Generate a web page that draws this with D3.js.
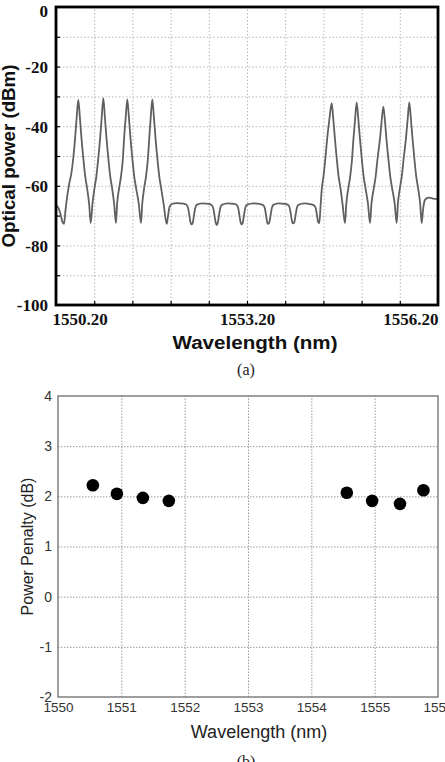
<!DOCTYPE html>
<html>
<head>
<meta charset="utf-8">
<script src="https://cdn.jsdelivr.net/npm/d3@7"></script>
<style>
  body { margin: 0; background: #fff; }
  svg { display: block; }
</style>
</head>
<body>
<div id="d3-container"></div>
<script>
/**
 * DATA
 * */
// (a) measured optical spectrum, [wavelength nm, power dBm]
const spectrum = [
  [1550.20, -66.5], [1550.24, -67.5], [1550.27, -69.5], [1550.30, -72], [1550.326, -72.8],
  // channel 1
  [1550.35, -68], [1550.38, -63], [1550.41, -59], [1550.44, -56], [1550.47, -51], [1550.50, -44], [1550.525, -37],
  [1550.55, -31.2], [1550.575, -37], [1550.60, -44], [1550.63, -51], [1550.66, -57], [1550.69, -61], [1550.72, -66], [1550.745, -72.5],
  // channel 2
  [1550.773, -66], [1550.803, -61], [1550.833, -57], [1550.863, -51], [1550.893, -44], [1550.918, -37],
  [1550.943, -30.6], [1550.968, -37], [1550.993, -44], [1551.023, -51], [1551.053, -57], [1551.083, -61], [1551.113, -66], [1551.142, -72.5],
  // channel 3
  [1551.16, -66], [1551.19, -61], [1551.22, -57], [1551.25, -51], [1551.27, -44], [1551.295, -37],
  [1551.32, -31], [1551.345, -37], [1551.37, -44], [1551.40, -51], [1551.43, -57], [1551.46, -61], [1551.50, -66], [1551.535, -72.5],
  // channel 4
  [1551.555, -66], [1551.583, -61], [1551.613, -57], [1551.643, -51], [1551.665, -44], [1551.688, -37],
  [1551.713, -31], [1551.738, -37], [1551.763, -44], [1551.793, -51], [1551.823, -57], [1551.853, -61], [1551.89, -66], [1551.939, -72.8],
  // empty slots (filter ripple)
  [1551.96, -70], [1551.985, -67], [1552.02, -66.1], [1552.10, -65.8], [1552.20, -66], [1552.25, -66.4],
  [1552.275, -67.5], [1552.295, -70], [1552.315, -72.5], [1552.331, -73], [1552.347, -72.5], [1552.367, -70], [1552.387, -67.5], [1552.41, -66.4],
  [1552.50, -65.9], [1552.60, -66.1],
  [1552.645, -66.5], [1552.67, -67.5], [1552.69, -70], [1552.71, -72.5], [1552.724, -73.2], [1552.74, -72.5], [1552.76, -70], [1552.78, -67.5], [1552.805, -66.4],
  [1552.90, -65.9], [1553.00, -66.1],
  [1553.04, -66.5], [1553.062, -67.5], [1553.082, -70], [1553.102, -72.5], [1553.117, -73], [1553.132, -72.5], [1553.152, -70], [1553.172, -67.5], [1553.197, -66.4],
  [1553.30, -65.9], [1553.40, -66.1],
  [1553.455, -66.5], [1553.48, -67.5], [1553.50, -70], [1553.52, -72.5], [1553.535, -72.8], [1553.55, -72.3], [1553.57, -70], [1553.59, -67.5], [1553.615, -66.4],
  [1553.70, -65.9], [1553.80, -66.1],
  [1553.85, -66.5], [1553.872, -67.5], [1553.892, -70], [1553.912, -72.3], [1553.927, -72.6], [1553.942, -72.3], [1553.962, -70], [1553.982, -67.5], [1554.007, -66.4],
  [1554.10, -65.9], [1554.20, -66.2],
  [1554.255, -66.6], [1554.28, -67.5], [1554.30, -70], [1554.32, -72.3], [1554.336, -72.5],
  // channel 5
  [1554.355, -67], [1554.375, -61], [1554.40, -57], [1554.43, -51], [1554.46, -44], [1554.495, -37.5],
  [1554.53, -32.3], [1554.555, -37.5], [1554.58, -44], [1554.61, -51], [1554.64, -57], [1554.67, -61], [1554.70, -66], [1554.739, -72.5],
  // channel 6
  [1554.76, -66], [1554.79, -61], [1554.82, -57], [1554.85, -51], [1554.873, -44], [1554.898, -37.5],
  [1554.923, -32], [1554.948, -37.5], [1554.973, -44], [1555.003, -51], [1555.033, -57], [1555.063, -61], [1555.10, -66], [1555.132, -72.5],
  // channel 7
  [1555.155, -66], [1555.19, -61], [1555.22, -57], [1555.25, -51], [1555.29, -44], [1555.316, -38],
  [1555.341, -33.4], [1555.366, -38], [1555.391, -44.5], [1555.421, -51], [1555.451, -57], [1555.481, -61], [1555.52, -66], [1555.551, -72.5],
  // channel 8
  [1555.57, -66], [1555.60, -61], [1555.63, -57], [1555.66, -51], [1555.697, -44], [1555.724, -37.5],
  [1555.749, -32], [1555.774, -37.5], [1555.799, -44], [1555.829, -51], [1555.859, -57], [1555.889, -61], [1555.92, -66], [1555.944, -72.5],
  [1555.965, -68], [1555.99, -65], [1556.02, -64.2], [1556.06, -64], [1556.12, -64.3], [1556.20, -64.5]
];
const spectrumPowerTicks = [0, -20, -40, -60, -80, -100];
const spectrumWavelengthTicks = [1550.2, 1553.2, 1556.2];

// (b) power penalty per channel
const penaltyWavelength = [1550.55, 1550.93, 1551.34, 1551.75, 1554.56, 1554.96, 1555.40, 1555.77];
const penaltyValue = [2.22, 2.05, 1.97, 1.91, 2.07, 1.91, 1.85, 2.12];
const penaltyTicks = [-2, -1, 0, 1, 2, 3, 4];
const penaltyWavelengthTicks = [1550, 1551, 1552, 1553, 1554, 1555, 1556];

/**
 * CONSTANTS
 * */
const width = 445, height = 762;
const serif = "'Liberation Serif', 'Times New Roman', serif";
const sans = "'Liberation Sans', Arial, sans-serif";
const plain = d => String(d); // keep ASCII hyphen minus like the figure

const svg = d3.select("#d3-container")
  .append("svg")
  .attr("width", width)
  .attr("height", height)
  .style("background", "#fff");

/**
 * PANEL (a)
 * */
const xA = d3.scaleLinear().domain([1550.2, 1556.2]).range([56, 438]);
const yA = d3.scaleLinear().domain([-100, 0]).range([305, 7]);
const xGridA = d3.range(1, 10).map(i => 1550.2 + i * 0.6);

const gA = svg.append("g");

// dotted grid every 10 dB / 0.6 nm
gA.append("g")
  .attr("transform", `translate(0,${yA(-100)})`)
  .call(d3.axisBottom(xA).tickValues(xGridA).tickSize(-(yA(-100) - yA(0))).tickFormat(""))
  .call(g => g.select(".domain").remove())
  .call(g => g.selectAll("line").attr("stroke", "#b8b8b8").attr("stroke-dasharray", "1.5,2"));

gA.append("g")
  .attr("transform", `translate(${xA(1550.2)},0)`)
  .call(d3.axisLeft(yA).tickValues(d3.range(-90, 0, 10)).tickSize(-(xA(1556.2) - xA(1550.2))).tickFormat(""))
  .call(g => g.select(".domain").remove())
  .call(g => g.selectAll("line").attr("stroke", "#b8b8b8").attr("stroke-dasharray", "1.5,2"));

// small inner tick marks
gA.append("g")
  .attr("transform", `translate(${xA(1550.2)},0)`)
  .call(d3.axisLeft(yA).tickValues(d3.range(-90, 0, 10)).tickSize(-4).tickFormat(""))
  .call(g => g.select(".domain").remove())
  .call(g => g.selectAll("line").attr("stroke", "#000").attr("stroke-width", 1.2));
gA.append("g")
  .attr("transform", `translate(0,${yA(-100)})`)
  .call(d3.axisBottom(xA).tickValues(xGridA).tickSize(-4).tickFormat(""))
  .call(g => g.select(".domain").remove())
  .call(g => g.selectAll("line").attr("stroke", "#000").attr("stroke-width", 1.2));

// spectrum trace
gA.append("path")
  .datum(spectrum)
  .attr("fill", "none")
  .attr("stroke", "#606060")
  .attr("stroke-width", 1.8)
  .attr("stroke-linejoin", "round")
  .attr("d", d3.line().x(d => xA(d[0])).y(d => yA(d[1])).curve(d3.curveMonotoneX));

// frame
gA.append("rect")
  .attr("x", xA(1550.2)).attr("y", yA(0))
  .attr("width", xA(1556.2) - xA(1550.2))
  .attr("height", yA(-100) - yA(0))
  .attr("fill", "none").attr("stroke", "#000").attr("stroke-width", 2.8);

// tick labels
gA.append("g")
  .attr("transform", `translate(${xA(1550.2) - 2},0)`)
  .call(d3.axisLeft(yA).tickValues(spectrumPowerTicks).tickSize(0).tickPadding(6).tickFormat(plain))
  .call(g => g.select(".domain").remove())
  .call(g => g.selectAll("text").attr("font-family", serif).attr("font-weight", "bold")
    .attr("font-size", 17).attr("fill", "#111").attr("dy", (d, i) => i === 0 ? "0.55em" : "0.35em"));

gA.append("g")
  .attr("transform", `translate(0,${yA(-100) + 2})`)
  .call(d3.axisBottom(xA).tickValues(spectrumWavelengthTicks).tickSize(0).tickPadding(6).tickFormat(d3.format(".2f")))
  .call(g => g.select(".domain").remove())
  .call(g => g.selectAll("text").attr("font-family", serif).attr("font-weight", "bold")
    .attr("font-size", 17).attr("fill", "#111")
    .attr("text-anchor", (d, i) => i === 0 ? "start" : i === spectrumWavelengthTicks.length - 1 ? "end" : "middle")
    .attr("dx", (d, i) => i === 0 ? -4 : 0));

// titles
gA.append("text")
  .attr("transform", `translate(15,${(yA(0) + yA(-100)) / 2}) rotate(-90)`)
  .attr("text-anchor", "middle")
  .attr("font-family", sans).attr("font-weight", "bold").attr("font-size", 17.5).attr("fill", "#111")
  .attr("textLength", 183).attr("lengthAdjust", "spacingAndGlyphs")
  .text("Optical power (dBm)");

gA.append("text")
  .attr("x", 255).attr("y", 349)
  .attr("text-anchor", "middle")
  .attr("font-family", sans).attr("font-weight", "bold").attr("font-size", 17.5).attr("fill", "#111")
  .attr("textLength", 165).attr("lengthAdjust", "spacingAndGlyphs")
  .text("Wavelength (nm)");

gA.append("text")
  .attr("x", 246).attr("y", 375)
  .attr("text-anchor", "middle")
  .attr("font-family", serif).attr("font-size", 16).attr("fill", "#222")
  .text("(a)");

/**
 * PANEL (b)
 * */
const xB = d3.scaleLinear().domain([1550, 1556]).range([58, 438]);
const yB = d3.scaleLinear().domain([-2, 4]).range([697, 396]);

const gB = svg.append("g");

gB.append("g")
  .attr("transform", `translate(0,${yB(-2)})`)
  .call(d3.axisBottom(xB).tickValues(penaltyWavelengthTicks.slice(1, -1))
    .tickSize(-(yB(-2) - yB(4))).tickFormat(""))
  .call(g => g.select(".domain").remove())
  .call(g => g.selectAll("line").attr("stroke", "#9a9a9a").attr("stroke-dasharray", "1.5,1.5"));

gB.append("g")
  .attr("transform", `translate(${xB(1550)},0)`)
  .call(d3.axisLeft(yB).tickValues(penaltyTicks.slice(1, -1))
    .tickSize(-(xB(1556) - xB(1550))).tickFormat(""))
  .call(g => g.select(".domain").remove())
  .call(g => g.selectAll("line").attr("stroke", "#9a9a9a").attr("stroke-dasharray", "1.5,1.5"));

gB.append("rect")
  .attr("x", xB(1550)).attr("y", yB(4))
  .attr("width", xB(1556) - xB(1550))
  .attr("height", yB(-2) - yB(4))
  .attr("fill", "none").attr("stroke", "#777").attr("stroke-width", 1.4);

gB.selectAll("circle.pp")
  .data(penaltyWavelength.map((w, i) => [w, penaltyValue[i]]))
  .join("circle")
  .attr("class", "pp")
  .attr("cx", d => xB(d[0]))
  .attr("cy", d => yB(d[1]))
  .attr("r", 6.3)
  .attr("fill", "#000");

gB.append("g")
  .attr("transform", `translate(${xB(1550)},0)`)
  .call(d3.axisLeft(yB).tickValues(penaltyTicks).tickSize(0).tickPadding(6).tickFormat(plain))
  .call(g => g.select(".domain").remove())
  .call(g => g.selectAll("text").attr("font-family", sans).attr("font-size", 14).attr("fill", "#333"));

gB.append("g")
  .attr("transform", `translate(0,${yB(-2)})`)
  .call(d3.axisBottom(xB).tickValues(penaltyWavelengthTicks).tickSize(0).tickPadding(5).tickFormat(plain))
  .call(g => g.select(".domain").remove())
  .call(g => g.selectAll("text").attr("font-family", sans).attr("font-size", 13.5).attr("fill", "#333"));

gB.append("text")
  .attr("transform", `translate(33,${(yB(4) + yB(-2)) / 2}) rotate(-90)`)
  .attr("text-anchor", "middle")
  .attr("font-family", sans).attr("font-size", 16).attr("fill", "#222")
  .text("Power Penalty (dB)");

gB.append("text")
  .attr("x", 259).attr("y", 738)
  .attr("text-anchor", "middle")
  .attr("font-family", sans).attr("font-size", 18).attr("fill", "#222")
  .text("Wavelength (nm)");

gB.append("text")
  .attr("x", 246).attr("y", 767)
  .attr("text-anchor", "middle")
  .attr("font-family", serif).attr("font-size", 16).attr("fill", "#222")
  .text("(b)");
</script>
</body>
</html>
